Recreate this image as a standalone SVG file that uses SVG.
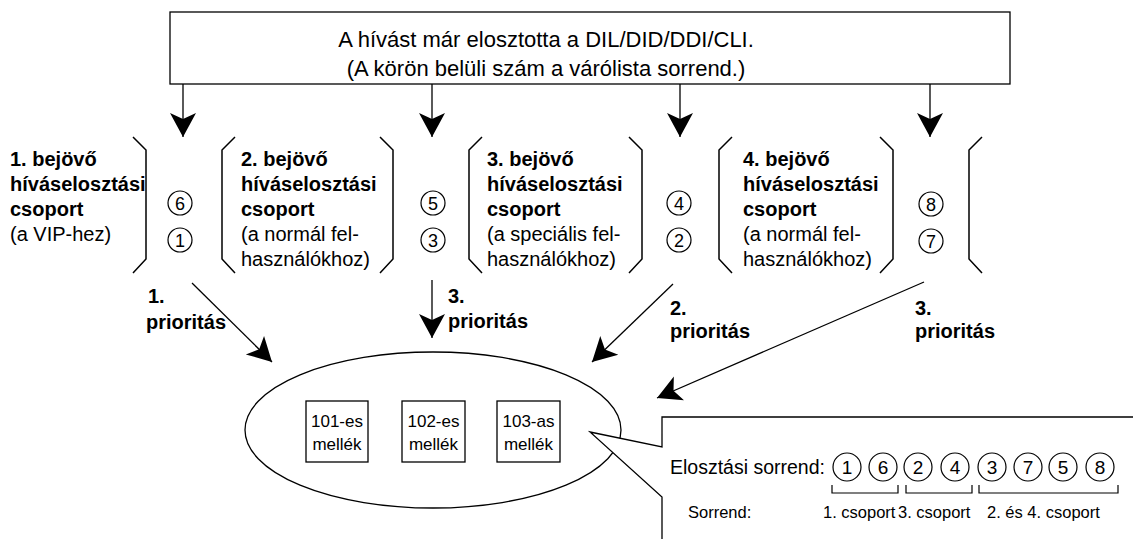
<svg xmlns="http://www.w3.org/2000/svg" width="1133" height="539" viewBox="0 0 1133 539">
  <style>
    text { font-family: "Liberation Sans", Arial, sans-serif; fill: #000; }
    .hdr { font-size: 22px; text-anchor: middle; }
    .b { font-size: 20px; font-weight: bold; }
    .n { font-size: 20px; }
    .num { font-size: 18px; text-anchor: middle; }
    .big { font-size: 19px; text-anchor: middle; }
    .ext { font-size: 17px; text-anchor: middle; }
    .lbl { font-size: 19.5px; }
    .sm { font-size: 16.5px; }
    .line { fill: none; stroke: #000; stroke-width: 1.3; }
    .brk { fill: none; stroke: #000; stroke-width: 1.5; }
    .circ { fill: #fff; stroke: #000; stroke-width: 1.2; }
    .box { fill: #fff; stroke: #000; stroke-width: 1.3; }
  </style>
  <defs>
    <marker id="head" viewBox="0 0 24 28" refX="24" refY="14" markerWidth="24" markerHeight="28" markerUnits="userSpaceOnUse" orient="auto">
      <path d="M24,14 L0,1 L6,14 L0,27 Z" fill="#000"/>
    </marker>
    <path id="rb" d="M0,0 L13,13 L13,122 L0,136" class="brk"/>
    <path id="lb" d="M0,0 L-13,13 L-13,122 L0,136" class="brk"/>
  </defs>

  <rect width="1133" height="539" fill="#fff"/>

  <!-- header box -->
  <g id="header">
    <rect x="170" y="12" width="840" height="72" class="box"/>
    <text class="hdr" x="546" y="47">A hívást már elosztotta a DIL/DID/DDI/CLI.</text>
    <text class="hdr" x="546" y="76">(A körön belüli szám a várólista sorrend.)</text>
  </g>

  <!-- incoming call distribution groups -->
  <g id="group1">
    <text class="b" x="10" y="166">1. bejövő</text>
    <text class="b" x="10" y="191">híváselosztási</text>
    <text class="b" x="10" y="216">csoport</text>
    <text class="n" x="10" y="241">(a VIP-hez)</text>
    <use href="#rb" x="133" y="137"/>
  </g>
  <g id="queue1">
    <circle cx="180" cy="203" r="12" class="circ"/>
    <text class="num" x="180" y="209.5">6</text>
    <circle cx="180" cy="240" r="12" class="circ"/>
    <text class="num" x="180" y="246.5">1</text>
  </g>

  <g id="group2">
    <use href="#lb" x="235" y="137"/>
    <text class="b" x="241" y="166">2. bejövő</text>
    <text class="b" x="241" y="191">híváselosztási</text>
    <text class="b" x="241" y="216">csoport</text>
    <text class="n" x="241" y="241">(a normál fel-</text>
    <text class="n" x="241" y="266">használókhoz)</text>
    <use href="#rb" x="380" y="137"/>
  </g>
  <g id="queue2">
    <circle cx="433" cy="203" r="12" class="circ"/>
    <text class="num" x="433" y="209.5">5</text>
    <circle cx="433" cy="240" r="12" class="circ"/>
    <text class="num" x="433" y="246.5">3</text>
  </g>

  <g id="group3">
    <use href="#lb" x="482" y="137"/>
    <text class="b" x="487" y="166">3. bejövő</text>
    <text class="b" x="487" y="191">híváselosztási</text>
    <text class="b" x="487" y="216">csoport</text>
    <text class="n" x="487" y="241">(a speciális fel-</text>
    <text class="n" x="487" y="266">használókhoz)</text>
    <use href="#rb" x="629" y="137"/>
  </g>
  <g id="queue3">
    <circle cx="679" cy="203" r="12" class="circ"/>
    <text class="num" x="679" y="209.5">4</text>
    <circle cx="679" cy="240" r="12" class="circ"/>
    <text class="num" x="679" y="246.5">2</text>
  </g>

  <g id="group4">
    <use href="#lb" x="732" y="137"/>
    <text class="b" x="743" y="166">4. bejövő</text>
    <text class="b" x="743" y="191">híváselosztási</text>
    <text class="b" x="743" y="216">csoport</text>
    <text class="n" x="743" y="241">(a normál fel-</text>
    <text class="n" x="743" y="266">használókhoz)</text>
    <use href="#rb" x="880" y="137"/>
    <use href="#lb" x="982" y="137"/>
  </g>
  <g id="queue4">
    <circle cx="931" cy="204" r="12" class="circ"/>
    <text class="num" x="931" y="210.5">8</text>
    <circle cx="931" cy="241" r="12" class="circ"/>
    <text class="num" x="931" y="247.5">7</text>
  </g>

  <!-- connectors -->
  <g id="connectors">
    <line x1="183" y1="84" x2="183" y2="137" class="line" marker-end="url(#head)"/>
    <line x1="432" y1="84" x2="432" y2="137" class="line" marker-end="url(#head)"/>
    <line x1="680" y1="84" x2="680" y2="137" class="line" marker-end="url(#head)"/>
    <line x1="930" y1="84" x2="930" y2="137" class="line" marker-end="url(#head)"/>
    <line x1="192" y1="283" x2="272" y2="362" class="line" marker-end="url(#head)"/>
    <line x1="432" y1="280" x2="432" y2="338" class="line" marker-end="url(#head)"/>
    <line x1="673" y1="284" x2="592" y2="362" class="line" marker-end="url(#head)"/>
    <line x1="924" y1="282" x2="657" y2="398" class="line" marker-end="url(#head)"/>
  </g>

  <!-- priority labels -->
  <g id="priorities">
    <text class="b" x="148" y="303">1.</text>
    <text class="b" x="146" y="329">prioritás</text>
    <text class="b" x="448" y="303">3.</text>
    <text class="b" x="448" y="328">prioritás</text>
    <text class="b" x="670" y="315">2.</text>
    <text class="b" x="670" y="338">prioritás</text>
    <text class="b" x="915" y="315">3.</text>
    <text class="b" x="915" y="338">prioritás</text>
  </g>

  <!-- extensions -->
  <g id="extensions">
    <ellipse cx="433" cy="430" rx="188" ry="78" class="line"/>
    <g id="ext101">
      <rect x="306" y="401" width="62" height="61" class="box"/>
      <text class="ext" x="337" y="427">101-es</text>
      <text class="ext" x="337" y="450">mellék</text>
    </g>
    <g id="ext102">
      <rect x="402" y="401" width="63" height="61" class="box"/>
      <text class="ext" x="433.5" y="427">102-es</text>
      <text class="ext" x="433.5" y="450">mellék</text>
    </g>
    <g id="ext103">
      <rect x="497" y="401" width="63" height="61" class="box"/>
      <text class="ext" x="528.5" y="427">103-as</text>
      <text class="ext" x="528.5" y="450">mellék</text>
    </g>
  </g>

  <!-- callout with distribution order -->
  <g id="callout">
    <path d="M662,545 L662,497 L590,432 L662,447 L662,417 L1140,417" fill="#fff" stroke="#000" stroke-width="1.3"/>
    <text class="lbl" x="670" y="474">Elosztási sorrend:</text>
    <g id="order">
      <circle cx="847" cy="467" r="14" class="circ"/><text class="big" x="847" y="474">1</text>
      <circle cx="883" cy="467" r="14" class="circ"/><text class="big" x="883" y="474">6</text>
      <circle cx="918" cy="467" r="14" class="circ"/><text class="big" x="918" y="474">2</text>
      <circle cx="955" cy="467" r="14" class="circ"/><text class="big" x="955" y="474">4</text>
      <circle cx="992" cy="467" r="14" class="circ"/><text class="big" x="992" y="474">3</text>
      <circle cx="1028" cy="467" r="14" class="circ"/><text class="big" x="1028" y="474">7</text>
      <circle cx="1063" cy="467" r="14" class="circ"/><text class="big" x="1063" y="474">5</text>
      <circle cx="1100" cy="467" r="14" class="circ"/><text class="big" x="1100" y="474">8</text>
    </g>
    <path d="M832,485 V493 H898 V485 M906,485 V493 H972 V485 M979,485 V493 H1118 V485" fill="none" stroke="#000" stroke-width="1.2"/>
    <text class="sm" x="688" y="518">Sorrend:</text>
    <text class="sm" x="823" y="518">1. csoport</text>
    <text class="sm" x="898" y="518">3. csoport</text>
    <text class="sm" x="987" y="518">2. és 4. csoport</text>
  </g>
</svg>
